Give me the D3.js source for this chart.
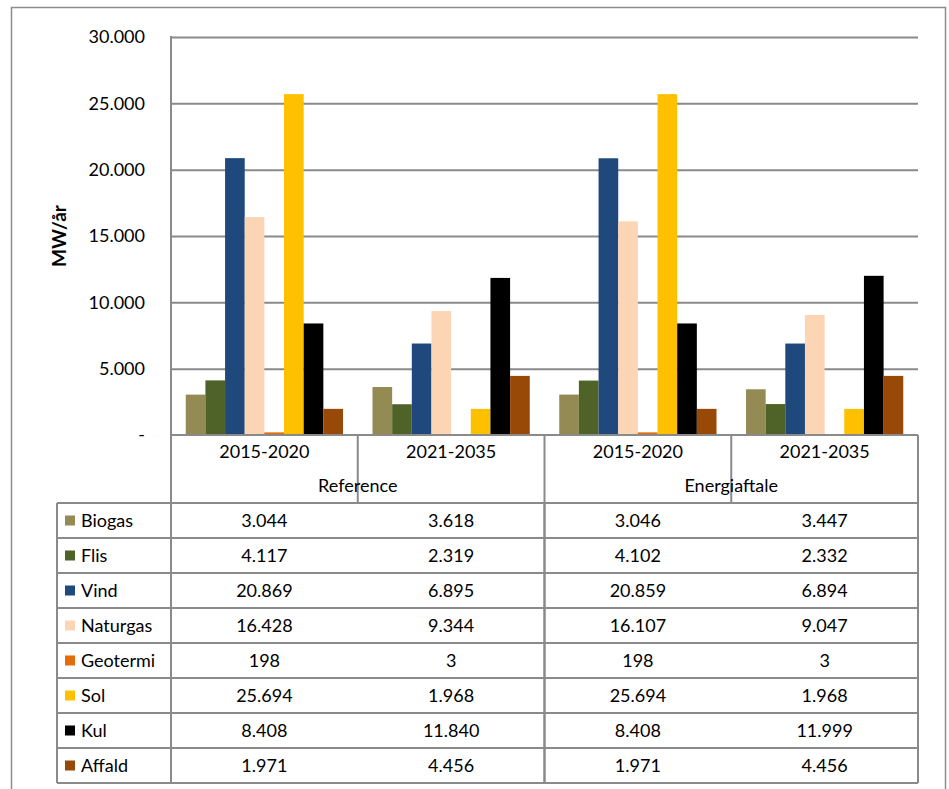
<!DOCTYPE html>
<html>
<head>
<meta charset="utf-8">
<script src="https://cdn.jsdelivr.net/npm/d3@7"></script>
<style>
  body { margin: 0; background: #fff; }
  svg { display: block; font-family: "Lato", "Open Sans", sans-serif; }
</style>
</head>
<body>
<div id="chart"></div>
<script>
// groups (scenario) and periods, one column per combination
const scenarios = ["Reference", "Energiaftale"];
const periods = ["2015-2020", "2021-2035"];

const fuels = ["Biogas", "Flis", "Vind", "Naturgas", "Geotermi", "Sol", "Kul", "Affald"];
const colors = ["#948A54", "#4F6228", "#1F497D", "#FCD5B5", "#E46C0A", "#FFC000", "#000000", "#984807"];

// values per fuel: Reference 2015-2020, Reference 2021-2035, Energiaftale 2015-2020, Energiaftale 2021-2035
const biogas = [3044, 3618, 3046, 3447];
const flis = [4117, 2319, 4102, 2332];
const vind = [20869, 6895, 20859, 6894];
const naturgas = [16428, 9344, 16107, 9047];
const geotermi = [198, 3, 198, 3];
const sol = [25694, 1968, 25694, 1968];
const kul = [8408, 11840, 8408, 11999];
const affald = [1971, 4456, 1971, 4456];

const yTicks = [0, 5000, 10000, 15000, 20000, 25000, 30000];

const seriesValues = [biogas, flis, vind, naturgas, geotermi, sol, kul, affald];
const columns = scenarios.flatMap((s) => periods.map((p) => `${s}|${p}`));

const width = 949;
const height = 789;
const plot = { left: 171, right: 918, top: 37, bottom: 435 };
const catRowH = 33;
const groupRowH = 35;
const rowH = 35;
const tableLeft = 57;
const gridColor = "#8a8a8a";
const fontSize = 18;

const locale = d3.formatLocale({ decimal: ",", thousands: ".", grouping: [3], currency: ["", ""] });
const fmt = locale.format(",d");

const x0 = d3.scaleBand().domain(columns).range([plot.left, plot.right]);
const x1 = d3.scaleBand().domain(fuels).range([0, x0.bandwidth()]).paddingOuter(0.75);
const y = d3.scaleLinear().domain([0, 30000]).range([plot.bottom, plot.top]);
const color = d3.scaleOrdinal(fuels, colors);

const svg = d3.select("#chart").append("svg")
  .attr("width", width)
  .attr("height", height)
  .attr("viewBox", `0 0 ${width} ${height}`);

// outer frame
svg.append("rect")
  .attr("x", 11.5).attr("y", 7.5)
  .attr("width", 934).attr("height", 800)
  .attr("fill", "none")
  .attr("stroke", "#8c8c8c")
  .attr("stroke-width", 1.5);

// y axis with gridlines
svg.append("g")
  .attr("transform", `translate(${plot.left},0)`)
  .call(d3.axisLeft(y).tickValues(yTicks).tickSize(0).tickPadding(26)
    .tickFormat((d) => (d === 0 ? "-" : fmt(d))))
  .call((g) => g.select(".domain").remove())
  .call((g) => g.selectAll(".tick text")
    .attr("font-size", fontSize)
    .attr("fill", "#000")
    .attr("font-family", "Lato, sans-serif"))
  .call((g) => g.selectAll(".tick")
    .filter((d) => d !== 0)
    .append("line")
    .attr("x2", plot.right - plot.left)
    .attr("stroke", gridColor)
    .attr("stroke-width", 2));

svg.append("text")
  .attr("transform", `translate(66,${(plot.top + plot.bottom) / 2}) rotate(-90)`)
  .attr("text-anchor", "middle")
  .attr("font-size", 19)
  .attr("font-weight", "bold")
  .text("MW/år");

// bars
const cols = svg.append("g")
  .selectAll("g")
  .data(columns)
  .join("g")
  .attr("transform", (d) => `translate(${x0(d)},0)`);

cols.selectAll("rect")
  .data((c, ci) => fuels.map((f, fi) => ({ fuel: f, value: seriesValues[fi][ci] })))
  .join("rect")
  .attr("x", (d) => x1(d.fuel))
  .attr("width", x1.bandwidth())
  .attr("y", (d) => y(d.value))
  .attr("height", (d) => y(0) - y(d.value))
  .attr("fill", (d) => color(d.fuel));

// data table lines
const tableTop = plot.bottom;
const headerBottom = tableTop + catRowH + groupRowH;
const tableBottom = headerBottom + rowH * fuels.length;
const lines = svg.append("g")
  .attr("stroke", gridColor)
  .attr("stroke-width", 2)
  .attr("fill", "none");

// axis line / table top
lines.append("line")
  .attr("x1", plot.left).attr("x2", plot.right)
  .attr("y1", tableTop).attr("y2", tableTop);

// left vertical from plot top down
lines.append("line")
  .attr("x1", plot.left).attr("x2", plot.left)
  .attr("y1", plot.top - 1).attr("y2", tableBottom);

// right vertical of table
lines.append("line")
  .attr("x1", plot.right).attr("x2", plot.right)
  .attr("y1", tableTop).attr("y2", tableBottom);

// column separators
columns.forEach((c, i) => {
  if (i === 0) return;
  const isGroupEdge = i % periods.length === 0;
  lines.append("line")
    .attr("x1", x0(c)).attr("x2", x0(c))
    .attr("y1", tableTop)
    .attr("y2", isGroupEdge ? tableBottom : tableTop + catRowH)
    .clone()
    .attr("y1", headerBottom);
});

// row lines
d3.range(fuels.length + 1).forEach((i) => {
  const yy = headerBottom + i * rowH;
  lines.append("line")
    .attr("x1", tableLeft).attr("x2", plot.right)
    .attr("y1", yy).attr("y2", yy);
});

// legend column left edge
lines.append("line")
  .attr("x1", tableLeft).attr("x2", tableLeft)
  .attr("y1", headerBottom).attr("y2", tableBottom);

// header text
const txt = svg.append("g")
  .attr("font-size", fontSize)
  .attr("fill", "#000")
  .attr("text-anchor", "middle");

txt.selectAll(".period")
  .data(columns)
  .join("text")
  .attr("x", (d) => x0(d) + x0.bandwidth() / 2)
  .attr("y", tableTop + catRowH / 2)
  .attr("dy", "0.35em")
  .text((d) => d.split("|")[1]);

txt.selectAll(".scenario")
  .data(scenarios)
  .join("text")
  .attr("x", (s) => x0(`${s}|${periods[0]}`) + x0.bandwidth())
  .attr("y", tableTop + catRowH + groupRowH / 2)
  .attr("dy", "0.35em")
  .text((d) => d);

// table cells
fuels.forEach((f, fi) => {
  const cy = headerBottom + fi * rowH + rowH / 2;
  svg.append("rect")
    .attr("x", 65).attr("y", cy - 5)
    .attr("width", 10).attr("height", 10)
    .attr("fill", color(f));
  svg.append("text")
    .attr("x", 81).attr("y", cy)
    .attr("dy", "0.35em")
    .attr("font-size", fontSize)
    .text(f);
  columns.forEach((c, ci) => {
    txt.append("text")
      .attr("x", x0(c) + x0.bandwidth() / 2)
      .attr("y", cy)
      .attr("dy", "0.35em")
      .text(fmt(seriesValues[fi][ci]));
  });
});
</script>
</body>
</html>
